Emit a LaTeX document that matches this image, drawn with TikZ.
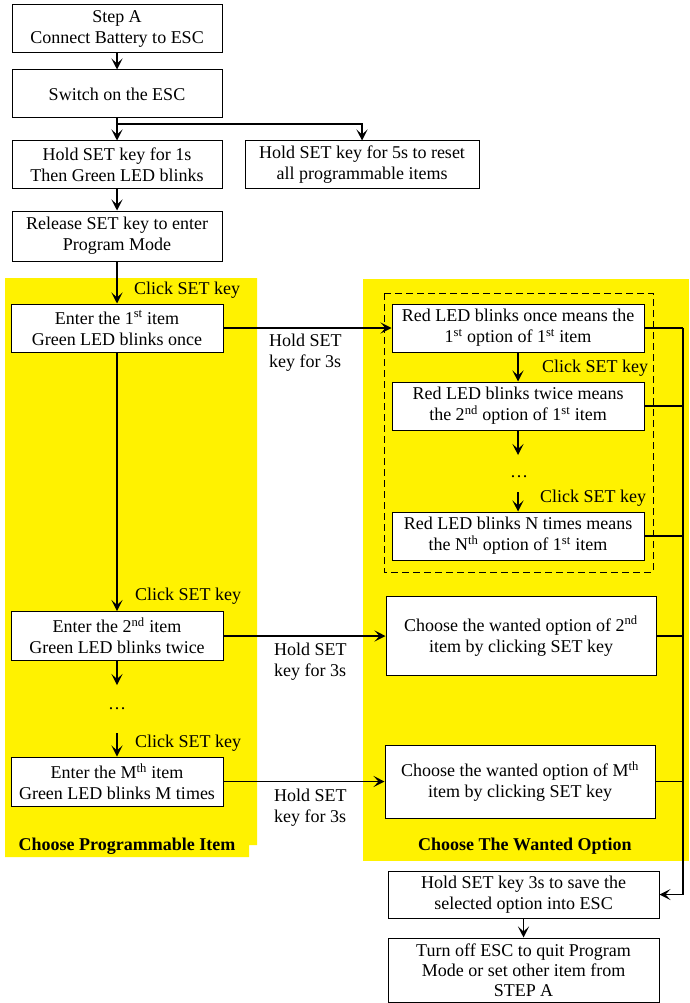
\documentclass[tikz,border=0pt]{standalone}
\usepackage{fontspec}
\setmainfont{Liberation Serif}
\usetikzlibrary{arrows.meta}
\begin{document}
\begin{tikzpicture}[x=1pt,y=-1pt,
  box/.style={draw=black,line width=1pt,fill=white,align=center,inner sep=0pt,font=\fontsize{18}{21}\selectfont},
  lbl/.style={inner sep=0pt,font=\fontsize{18}{21}\selectfont},
  blbl/.style={inner sep=0pt,font=\fontsize{18}{21}\selectfont\bfseries},
  conn/.style={line width=1.2pt},
  arr/.style={line width=1.2pt,-{Stealth[length=11pt,width=11pt,inset=5pt]}}]
\useasboundingbox (0,0) rectangle (689,1003);
% yellow panels
\fill[yellow] (5,278) -- (257,278) -- (257,845) -- (249,845) -- (249,857) -- (5,857) -- cycle;
\fill[yellow] (363,279) rectangle (689,861);
\draw[line width=1pt,dash pattern=on 7pt off 4pt] (384,293) rectangle (653,572);
% boxes
\node[box,minimum width=210pt,minimum height=48pt] (b1) at (117,29) {Step A\\Connect Battery to ESC};
\node[box,minimum width=210pt,minimum height=48pt] (b2) at (117,94) {Switch on the ESC};
\node[box,minimum width=210pt,minimum height=48pt] (b3) at (117,165) {Hold SET key for 1s\\Then Green LED blinks};
\node[box,minimum width=234pt,minimum height=48pt] (b4) at (362,165) {Hold SET key for 5s to reset\\all programmable items};
\node[box,minimum width=210pt,minimum height=50pt] (b5) at (117,236) {Release SET key to enter\\Program Mode};
\node[box,minimum width=212pt,minimum height=48pt] (b6) at (117,328) {Enter the 1\textsuperscript{st} item\\Green LED blinks once};
\node[box,minimum width=212pt,minimum height=49pt] (b7) at (117,636) {Enter the 2\textsuperscript{nd} item\\Green LED blinks twice};
\node[box,minimum width=212pt,minimum height=49pt] (b8) at (117,781.5) {Enter the M\textsuperscript{th} item\\Green LED blinks M times};
\node[box,minimum width=252pt,minimum height=48pt] (r1) at (518,328) {Red LED blinks once means the\\1\textsuperscript{st} option of 1\textsuperscript{st} item};
\node[box,minimum width=252pt,minimum height=48pt] (r2) at (518,406) {Red LED blinks twice means\\the 2\textsuperscript{nd} option of 1\textsuperscript{st} item};
\node[box,minimum width=252pt,minimum height=48pt] (r3) at (518,536) {Red LED blinks N times means\\the N\textsuperscript{th} option of 1\textsuperscript{st} item};
\node[box,minimum width=270pt,minimum height=79pt] (r4) at (521,636) {Choose the wanted option of 2\textsuperscript{nd}\\item by clicking SET key};
\node[box,minimum width=270pt,minimum height=73pt] (r5) at (520,781.5) {Choose the wanted option of M\textsuperscript{th}\\item by clicking SET key};
\node[box,minimum width=271pt,minimum height=47pt] (b9) at (523.5,894.5) {Hold SET key 3s to save the\\selected option into ESC};
\node[box,minimum width=271pt,minimum height=64pt,font=\fontsize{18}{20}\selectfont] (b10) at (523.5,970) {Turn off ESC to quit Program\\Mode or set other item from\\STEP A};
% labels
\node[lbl,anchor=west] (c1) at (134,290) {Click SET key};
\node[lbl,anchor=west] (c2) at (135,596) {Click SET key};
\node[lbl,anchor=west] (c3) at (135,743) {Click SET key};
\node[lbl,anchor=west] (c4) at (542,368) {Click SET key};
\node[lbl,anchor=west] (c5) at (540,498) {Click SET key};
\node[lbl,anchor=west,align=left] (h1) at (269,352.5) {Hold SET\\key for 3s};
\node[lbl,anchor=west,align=left] (h2) at (274,661.5) {Hold SET\\key for 3s};
\node[lbl,anchor=west,align=left] (h3) at (274,807.5) {Hold SET\\key for 3s};
\node[lbl] (dl) at (117,709) {…};
\node[lbl] (dr) at (519,477) {…};
\node[blbl] (t1) at (127,846) {Choose Programmable Item};
\node[blbl] (t2) at (525,846) {Choose The Wanted Option};
% coordinates
\coordinate (br) at (117,124);
\coordinate (d1a) at (117,685);
\coordinate (d1b) at (117,733);
\coordinate (d2a) at (518,455);
\coordinate (d2b) at (518,492);
\coordinate (rl) at (683,0);
% connectors
\draw[arr] (b1) -- (b2);
\draw[arr] (b2) -- (b3);
\draw[arr] (br) -| (b4.north);
\draw[arr] (b3) -- (b5);
\draw[arr] (b5) -- (b6);
\draw[arr] (b6) -- (b7);
\draw[arr] (b7) -- (d1a);
\draw[arr] (d1b) -- (b8);
\draw[arr] (b6.east) -- (r1.west);
\draw[arr] (b7.east) -- (r4.west |- b7.east);
\draw[arr] (b8.east) -- (r5.west |- b8.east);
\draw[arr] (r1) -- (r2);
\draw[arr] (r2) -- (d2a);
\draw[arr] (d2b) -- (r3);
\draw[conn] (r1.east) -- (rl |- r1.east);
\draw[conn] (r2.east) -- (rl |- r2.east);
\draw[conn] (r3.east) -- (rl |- r3.east);
\draw[conn] (r4.east) -- (rl |- r4.east);
\draw[conn] (r5.east) -- (rl |- r5.east);
\draw[arr] (rl |- r1.east) -- (rl |- b9.east) -- (b9.east);
\draw[arr] (b9) -- (b10);
\end{tikzpicture}
\end{document}
